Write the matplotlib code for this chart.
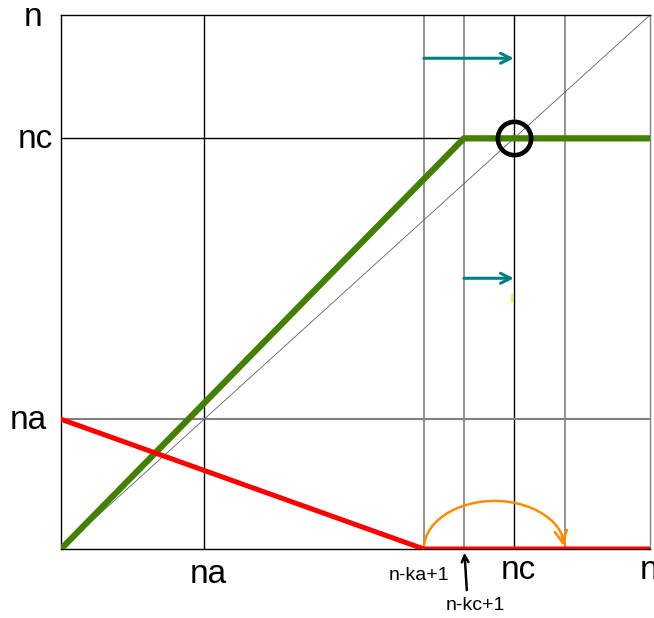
import numpy as np
import matplotlib
matplotlib.use('Agg')
import matplotlib.pyplot as plt

# Valores (escala: n = 100)
n = 100.0
na = 24.3
nc = 76.9
n_ka1 = 61.6      # n-ka+1
n_kc1 = 68.4      # n-kc+1
x_salto = 85.6    # fin del arco naranja

# Curva verde: sube por la diagonal hasta n-kc+1 y luego queda en nc
verde_x = [0, n_kc1, n]
verde_y = [0, nc, nc]

# Curva roja: baja desde na hasta n-ka+1 y luego queda en 0
rojo_x = [0, n_ka1, n]
rojo_y = [na, 0, 0]

# Flechas verde azuladas (inicio, fin, altura)
flechas_x0 = [n_ka1, n_kc1]
flechas_x1 = [nc, nc]
flechas_y = [91.9, 50.7]

plt.rcParams['font.family'] = ['Liberation Sans', 'DejaVu Sans']

fig = plt.figure(figsize=(6.54, 6.18), dpi=100)
ax = fig.add_axes([61 / 654, 69 / 618, 589 / 654, 534 / 618])
ax.set_xlim(0, n)
ax.set_ylim(0, n)

# Líneas de referencia
for xv in [na, nc]:
    ax.axvline(xv, color='black', lw=1)
for xv in [n_ka1, n_kc1, x_salto]:
    ax.axvline(xv, color='#808080', lw=1.2)
ax.axhline(nc, color='black', lw=1)
ax.axhline(na, color='#808080', lw=1.5)
ax.plot([0, n], [0, n], color='#606060', lw=0.6)

ax.plot(verde_x, verde_y, color='#428000', lw=4.5, solid_capstyle='round', zorder=3)
ax.plot(rojo_x, rojo_y, color='#ff0000', lw=3.6, solid_capstyle='round', zorder=3)

# Círculo en (nc, nc)
ax.plot([nc], [nc], 'o', mfc='none', mec='black', mew=3.3, ms=24, zorder=4)

for x0, x1, y in zip(flechas_x0, flechas_x1, flechas_y):
    ax.annotate('', xy=(x1, y), xytext=(x0, y),
                arrowprops=dict(arrowstyle='->', color='#008080', lw=2.2,
                                mutation_scale=18, shrinkA=0, shrinkB=0))

# Pequeña marca amarilla
ax.plot([nc - 0.3, nc - 0.3], [47.5, 46.3], color='#ffee00', lw=1.2)

# Arco naranja de n-ka+1 a x_salto
cx = (n_ka1 + x_salto) / 2
rx = (x_salto - n_ka1) / 2
t = np.linspace(np.pi, 0.08, 80)
ax.plot(cx + rx * np.cos(t), 9.0 * np.sin(t), color='#ff8c00', lw=1.8, zorder=2)
ax.annotate('', xy=(x_salto - 0.3, 0.6), xytext=(x_salto - 0.6, 2.5),
            arrowprops=dict(arrowstyle='->', color='#ff8c00', lw=1.8,
                            mutation_scale=22, shrinkA=0, shrinkB=0))

ax.set_xticks([])
ax.set_yticks([])
for s in ax.spines.values():
    s.set_linewidth(1)
ax.spines['right'].set_color('#808080')

# Etiquetas
fs = 24
ax.text(-4.75, 99.6, 'n', fontsize=fs, ha='center', va='center', clip_on=False)
ax.text(-4.4, 76.6, 'nc', fontsize=fs, ha='center', va='center', clip_on=False)
ax.text(-5.6, 24.0, 'na', fontsize=fs, ha='center', va='center', clip_on=False)
ax.text(25.0, -4.7, 'na', fontsize=fs, ha='center', va='center', clip_on=False)
ax.text(77.6, -4.1, 'nc', fontsize=fs, ha='center', va='center', clip_on=False)
ax.text(98.3, -4.1, 'n', fontsize=fs, ha='left', va='center', clip_on=False)
ax.text(60.8, -4.9, 'n-ka+1', fontsize=14, ha='center', va='center', clip_on=False)
ax.text(70.3, -10.5, 'n-kc+1', fontsize=14, ha='center', va='center', clip_on=False)
ax.annotate('', xy=(n_kc1 + 0.1, -0.7), xytext=(n_kc1 + 0.5, -7.7),
            arrowprops=dict(arrowstyle='->', color='black', lw=1.8,
                            mutation_scale=12, shrinkA=0, shrinkB=0),
            annotation_clip=False)

fig.savefig('out.png', dpi=100)
